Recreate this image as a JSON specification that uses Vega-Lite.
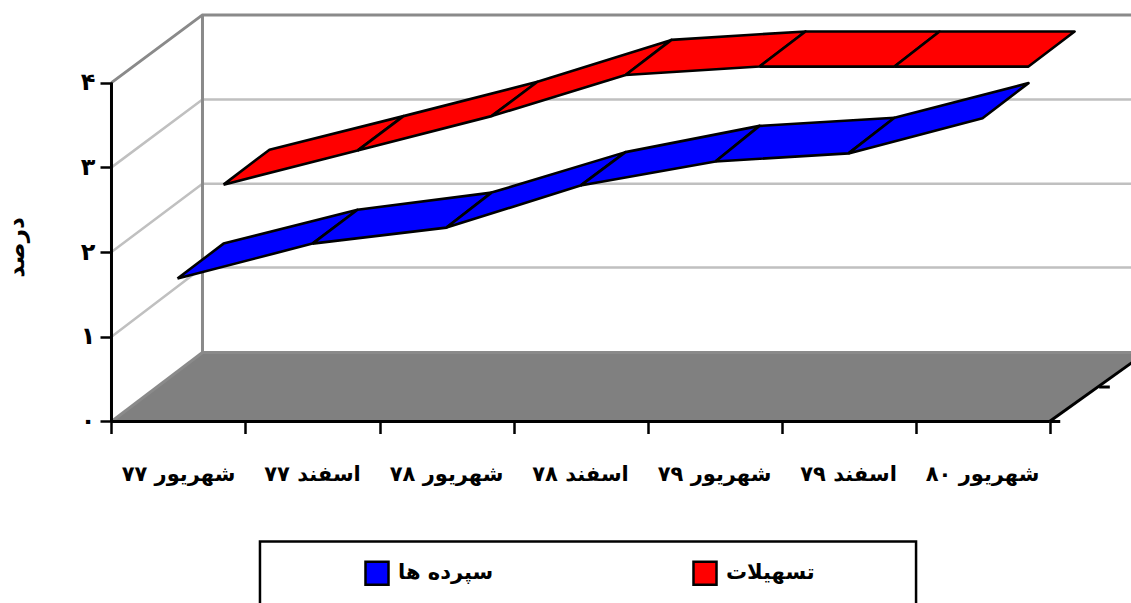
{"$schema":"https://vega.github.io/schema/vega-lite/v6.json","width":1131,"height":603,"padding":0,"autosize":{"type":"none"},"background":"white","config":{"view":{"stroke":null},"font":"DejaVu Sans"},
"datasets":{
"floor":[{"o":0,"x":0,"y":0},{"o":1,"x":0.679,"y":0.814},{"o":2,"x":7.72,"y":0.814},{"o":3,"x":7,"y":0},{"o":4,"x":0,"y":0}],
"grid":[{"g":"1","o":0,"x":0,"y":1},{"g":"1","o":1,"x":0.679,"y":1.817},{"g":"1","o":2,"x":7.72,"y":1.817},{"g":"2","o":0,"x":0,"y":2},{"g":"2","o":1,"x":0.679,"y":2.808},{"g":"2","o":2,"x":7.72,"y":2.808},{"g":"3","o":0,"x":0,"y":3},{"g":"3","o":1,"x":0.679,"y":3.8},{"g":"3","o":2,"x":7.72,"y":3.8}],
"frame":[{"g":"a","o":0,"x":0,"y":4},{"g":"a","o":1,"x":0.679,"y":4.8},{"g":"a","o":2,"x":7.72,"y":4.8},{"g":"b","o":0,"x":0.679,"y":4.8},{"g":"b","o":1,"x":0.679,"y":0.814},{"g":"b","o":2,"x":7.72,"y":0.814},{"g":"c","o":0,"x":0,"y":0},{"g":"c","o":1,"x":0.679,"y":0.814}],
"edges":[{"g":"a","o":0,"x":0,"y":0},{"g":"a","o":1,"x":0,"y":4},{"g":"b","o":0,"x":0,"y":0},{"g":"b","o":1,"x":7,"y":0},{"g":"c","o":0,"x":7,"y":0},{"g":"c","o":1,"x":7.72,"y":0.814},{"g":"d","o":0,"x":7,"y":0},{"g":"d","o":1,"x":7.08,"y":0},{"g":"e","o":0,"x":7.37,"y":0.407},{"g":"e","o":1,"x":7.45,"y":0.407}],
"ribbons":[
{"s":"تسهیلات","seg":"r1","o":0,"x":0.836,"y":2.796},{"s":"تسهیلات","seg":"r1","o":1,"x":1.836,"y":3.198},{"s":"تسهیلات","seg":"r1","o":2,"x":2.179,"y":3.605},{"s":"تسهیلات","seg":"r1","o":3,"x":1.179,"y":3.209},{"s":"تسهیلات","seg":"r1","o":4,"x":0.836,"y":2.796},
{"s":"تسهیلات","seg":"r2","o":0,"x":1.836,"y":3.198},{"s":"تسهیلات","seg":"r2","o":1,"x":2.836,"y":3.605},{"s":"تسهیلات","seg":"r2","o":2,"x":3.179,"y":4.01},{"s":"تسهیلات","seg":"r2","o":3,"x":2.179,"y":3.605},{"s":"تسهیلات","seg":"r2","o":4,"x":1.836,"y":3.198},
{"s":"تسهیلات","seg":"r3","o":0,"x":2.836,"y":3.605},{"s":"تسهیلات","seg":"r3","o":1,"x":3.836,"y":4.09},{"s":"تسهیلات","seg":"r3","o":2,"x":4.179,"y":4.505},{"s":"تسهیلات","seg":"r3","o":3,"x":3.179,"y":4.01},{"s":"تسهیلات","seg":"r3","o":4,"x":2.836,"y":3.605},
{"s":"تسهیلات","seg":"r4","o":0,"x":3.836,"y":4.09},{"s":"تسهیلات","seg":"r4","o":1,"x":4.836,"y":4.19},{"s":"تسهیلات","seg":"r4","o":2,"x":5.179,"y":4.605},{"s":"تسهیلات","seg":"r4","o":3,"x":4.179,"y":4.505},{"s":"تسهیلات","seg":"r4","o":4,"x":3.836,"y":4.09},
{"s":"تسهیلات","seg":"r5","o":0,"x":4.836,"y":4.19},{"s":"تسهیلات","seg":"r5","o":1,"x":5.843,"y":4.19},{"s":"تسهیلات","seg":"r5","o":2,"x":6.179,"y":4.605},{"s":"تسهیلات","seg":"r5","o":3,"x":5.179,"y":4.605},{"s":"تسهیلات","seg":"r5","o":4,"x":4.836,"y":4.19},
{"s":"تسهیلات","seg":"r6","o":0,"x":5.843,"y":4.19},{"s":"تسهیلات","seg":"r6","o":1,"x":6.843,"y":4.19},{"s":"تسهیلات","seg":"r6","o":2,"x":7.187,"y":4.605},{"s":"تسهیلات","seg":"r6","o":3,"x":6.179,"y":4.605},{"s":"تسهیلات","seg":"r6","o":4,"x":5.843,"y":4.19},
{"s":"سپرده ها","seg":"b1","o":0,"x":0.4925,"y":1.687},{"s":"سپرده ها","seg":"b1","o":1,"x":1.5,"y":2.1},{"s":"سپرده ها","seg":"b1","o":2,"x":1.836,"y":2.5},{"s":"سپرده ها","seg":"b1","o":3,"x":0.836,"y":2.1},{"s":"سپرده ها","seg":"b1","o":4,"x":0.4925,"y":1.687},
{"s":"سپرده ها","seg":"b2","o":0,"x":1.5,"y":2.1},{"s":"سپرده ها","seg":"b2","o":1,"x":2.5,"y":2.289},{"s":"سپرده ها","seg":"b2","o":2,"x":2.836,"y":2.702},{"s":"سپرده ها","seg":"b2","o":3,"x":1.836,"y":2.5},{"s":"سپرده ها","seg":"b2","o":4,"x":1.5,"y":2.1},
{"s":"سپرده ها","seg":"b3","o":0,"x":2.5,"y":2.289},{"s":"سپرده ها","seg":"b3","o":1,"x":3.5,"y":2.785},{"s":"سپرده ها","seg":"b3","o":2,"x":3.836,"y":3.18},{"s":"سپرده ها","seg":"b3","o":3,"x":2.836,"y":2.702},{"s":"سپرده ها","seg":"b3","o":4,"x":2.5,"y":2.289},
{"s":"سپرده ها","seg":"b4","o":0,"x":3.5,"y":2.785},{"s":"سپرده ها","seg":"b4","o":1,"x":4.507,"y":3.07},{"s":"سپرده ها","seg":"b4","o":2,"x":4.836,"y":3.49},{"s":"سپرده ها","seg":"b4","o":3,"x":3.836,"y":3.18},{"s":"سپرده ها","seg":"b4","o":4,"x":3.5,"y":2.785},
{"s":"سپرده ها","seg":"b5","o":0,"x":4.507,"y":3.07},{"s":"سپرده ها","seg":"b5","o":1,"x":5.5,"y":3.165},{"s":"سپرده ها","seg":"b5","o":2,"x":5.843,"y":3.585},{"s":"سپرده ها","seg":"b5","o":3,"x":4.836,"y":3.49},{"s":"سپرده ها","seg":"b5","o":4,"x":4.507,"y":3.07},
{"s":"سپرده ها","seg":"b6","o":0,"x":5.5,"y":3.165},{"s":"سپرده ها","seg":"b6","o":1,"x":6.5,"y":3.58},{"s":"سپرده ها","seg":"b6","o":2,"x":6.843,"y":3.995},{"s":"سپرده ها","seg":"b6","o":3,"x":5.843,"y":3.585},{"s":"سپرده ها","seg":"b6","o":4,"x":5.5,"y":3.165}],
"cats":[{"x":0.5,"y":-0.637,"t":"شهریور ۷۷"},{"x":1.5,"y":-0.637,"t":"اسفند ۷۷"},{"x":2.5,"y":-0.637,"t":"شهریور ۷۸"},{"x":3.5,"y":-0.637,"t":"اسفند ۷۸"},{"x":4.5,"y":-0.637,"t":"شهریور ۷۹"},{"x":5.5,"y":-0.637,"t":"اسفند ۷۹"},{"x":6.5,"y":-0.637,"t":"شهریور ۸۰"}],
"box":[{"x":1.108,"x2":6.004,"y":-1.416,"y2":-2.3}]
},
"encoding":{
"x":{"field":"x","type":"quantitative","title":null,"scale":{"domain":[-0.832,7.608],"nice":false,"zero":false},"axis":{"values":[0,1,2,3,4,5,6,7],"offset":-181.5,"labels":false,"domain":false,"grid":false,"ticks":true,"tickSize":12,"tickWidth":2.5,"tickColor":"black","zindex":1}},
"y":{"field":"y","type":"quantitative","title":"درصد","scale":{"domain":[-2.143,4.976],"nice":false,"zero":false},"axis":{"values":[0,1,2,3,4],"offset":-112,"domain":false,"grid":false,"tickSize":12,"tickWidth":2.5,"tickColor":"black","labelExpr":"['۰','۱','۲','۳','۴'][datum.value]","labelFontSize":24,"labelFontWeight":"bold","labelColor":"black","labelPadding":5,"titleFontSize":23,"titleFontWeight":"bold","titleColor":"black","titleX":-84,"titleY":247,"zindex":1}}
},
"layer":[
{"data":{"name":"floor"},"mark":{"type":"line","fill":"#808080","stroke":"#808080","strokeWidth":1},"encoding":{"order":{"field":"o"}}},
{"data":{"name":"grid"},"mark":{"type":"line","stroke":"#c0c0c0","strokeWidth":2.5},"encoding":{"detail":{"field":"g"},"order":{"field":"o"}}},
{"data":{"name":"frame"},"mark":{"type":"line","stroke":"#8a8a8a","strokeWidth":3},"encoding":{"detail":{"field":"g"},"order":{"field":"o"}}},
{"data":{"name":"edges"},"mark":{"type":"line","stroke":"black","strokeWidth":3},"encoding":{"detail":{"field":"g"},"order":{"field":"o"}}},
{"data":{"name":"ribbons"},"mark":{"type":"line","stroke":"black","strokeWidth":2.6,"strokeJoin":"round"},"encoding":{"detail":{"field":"seg"},"order":{"field":"o"},"fill":{"field":"s","type":"nominal","scale":{"domain":["سپرده ها","تسهیلات"],"range":["#0000ff","#ff0000"]},"legend":{"title":null,"orient":"none","legendX":364,"legendY":560,"direction":"horizontal","columns":2,"columnPadding":194,"symbolType":"square","symbolSize":530,"symbolStrokeColor":"black","symbolStrokeWidth":2.5,"symbolOpacity":1,"labelFontSize":21,"labelFontWeight":"bold","labelColor":"black","labelOffset":8,"labelLimit":200,"padding":0}}}},
{"data":{"name":"cats"},"mark":{"type":"text","fontSize":21,"fontWeight":"bold","color":"black","align":"center","baseline":"middle"},"encoding":{"text":{"field":"t"}}},
{"data":{"name":"box"},"mark":{"type":"rect","fill":null,"stroke":"black","strokeWidth":2.5},"encoding":{"x":{"field":"x","type":"quantitative"},"x2":{"field":"x2"},"y":{"field":"y","type":"quantitative"},"y2":{"field":"y2"}}}
]}
